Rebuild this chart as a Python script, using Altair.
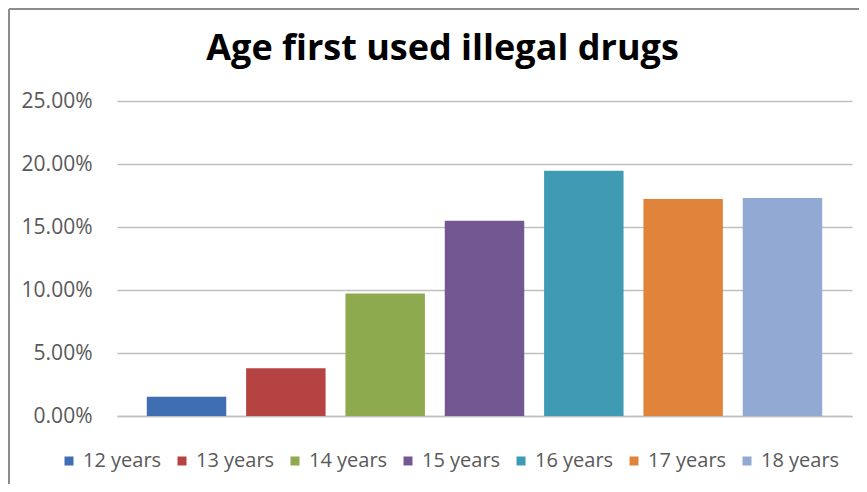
import altair as alt
import pandas as pd

ages = ["12 years", "13 years", "14 years", "15 years", "16 years", "17 years", "18 years"]
shares = [0.0153, 0.0378, 0.0973, 0.1550, 0.1947, 0.1722, 0.1730]
colors = ["#3F6EB3", "#B54341", "#8DAA4F", "#735792", "#3F9AB4", "#E0843B", "#92A9D3"]
y_ticks = [0, 0.05, 0.10, 0.15, 0.20, 0.25]

df = pd.DataFrame({"age": ages, "share": shares})

bars = alt.Chart(df).mark_bar().encode(
    x=alt.X("age:N", sort=ages,
            scale=alt.Scale(paddingInner=0.2, paddingOuter=0.3),
            axis=alt.Axis(labels=False, ticks=False, title=None, domainColor="#BFBFBF", domainWidth=1.5)),
    y=alt.Y("share:Q", scale=alt.Scale(domain=[0, 0.25]),
            axis=alt.Axis(format=".2%", values=y_ticks, title=None, domain=False, ticks=False,
                          labelPadding=25, labelFontSize=21, labelColor="#595959",
                          labelFont="Open Sans", gridColor="#BFBFBF", gridWidth=1.5)),
    color=alt.Color("age:N", sort=ages, scale=alt.Scale(domain=ages, range=colors),
                    legend=alt.Legend(orient="none", legendX=-58, legendY=350, direction="horizontal",
                                      title=None, symbolType="square", symbolSize=81,
                                      symbolStrokeWidth=0, labelFontSize=20, labelFont="Open Sans",
                                      labelColor="#595959", columnPadding=10, labelOffset=4)),
)

one = pd.DataFrame({"k": [0]})
frame_left = alt.Chart(one).mark_rule(color="#8C8C8C", strokeWidth=2).encode(
    x=alt.value(-108), y=alt.value(-92), y2=alt.value(383)
)
frame_top = alt.Chart(one).mark_rule(color="#8C8C8C", strokeWidth=2).encode(
    x=alt.value(-108), x2=alt.value(742), y=alt.value(-92)
)

chart = (bars + frame_left + frame_top).properties(
    width=735, height=315,
    title=alt.TitleParams("Age first used illegal drugs", font="Open Sans", fontSize=36,
                          fontWeight="bold", color="#000000", anchor="middle", dx=-42,
                          baseline="alphabetic", offset=0, dy=88),
    autosize=alt.AutoSizeParams(type="none"),
    padding={"left": 109, "top": 93, "right": 7, "bottom": 68},
).configure_view(stroke=None)

chart.save("out.html", embed_options={"renderer": "svg", "actions": False})
